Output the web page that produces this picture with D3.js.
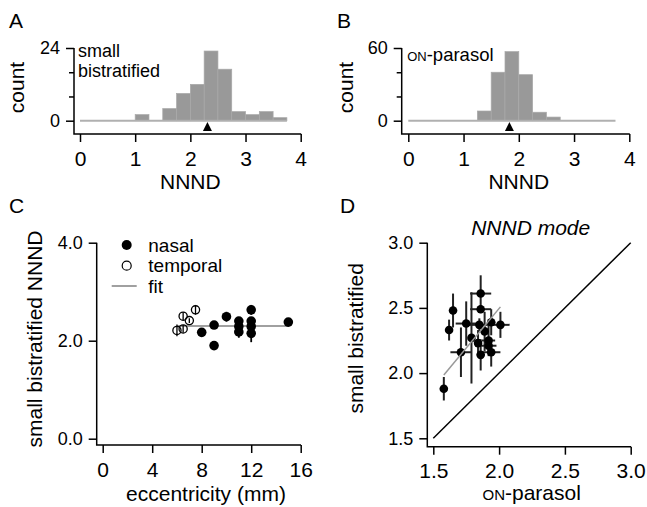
<!DOCTYPE html>
<html><head><meta charset="utf-8">
<script src="https://cdn.jsdelivr.net/npm/d3@7"></script>
<style>
html,body{margin:0;padding:0;background:#fff;}
svg{display:block;font-family:"Liberation Sans",Arial,Helvetica,sans-serif;}
</style></head>
<body>
<script>
// ---------- DATA ----------
const binEdges = [0,0.25,0.5,0.75,1,1.25,1.5,1.75,2,2.25,2.5,2.75,3,3.25,3.5];
const binWidth = 0.25;
const countsA = [0,0,0,0,2,0,4,9,12,23,17,3,2,3,1];
const countsB = [0,0,0,0,0,8,40,57,38,7,3,0,0,0,0];
const medianA = 2.31;
const medianB = 1.83;
const histXTicks = [0,1,2,3,4];
const histYTicksA = [0,24];
const histYMinorA = [8,16];
const histYTicksB = [0,60];
const histYMinorB = [20,40];

// panel C: eccentricity (mm), NNND, error
const nasalEcc  = [8,9,9,10,11,11,11,12,12,12,12,15];
const nasalNNND = [2.17,1.90,2.32,2.49,2.40,2.29,2.18,2.63,2.40,2.29,2.15,2.38];
const nasalErr  = [0.04,0.04,0.05,0.10,0.06,0.08,0.12,0.10,0.08,0.08,0.18,0.05];
const tempEcc   = [6.0,6.5,6.5,7.0,7.5];
const tempNNND  = [2.21,2.24,2.50,2.41,2.63];
const tempErr   = [0.12,0.08,0.08,0.05,0.10];
const fitCEcc   = [6,15];
const fitCNNND  = [2.30,2.30];
const cXTicks = [0,4,8,12,16];
const cYTicks = [0,2,4];
const legendC = ["nasal","temporal","fit"];

// panel D: ON-parasol mode, small bistratified mode, errors
const dParasol = [1.58,1.65,1.62,1.75,1.71,1.79,1.86,1.86,1.85,1.84,1.86,1.89,1.92,1.94,1.94,2.01,1.92];
const dSmallBi = [1.88,2.48,2.33,2.38,2.16,2.27,2.61,2.49,2.37,2.23,2.14,2.32,2.25,2.39,2.16,2.37,2.21];
const dXErr    = [0.03,0.02,0.02,0.08,0.08,0.02,0.08,0.08,0.09,0.03,0.03,0.03,0.05,0.03,0.07,0.07,0.06];
const dYErr    = [0.09,0.13,0.08,0.17,0.19,0.35,0.14,0.03,0.05,0.10,0.12,0.15,0.12,0.10,0.11,0.10,0.05];
const fitDX = [1.58,2.01];
const fitDY = [1.985,2.508];
const dTicks = [1.5,2.0,2.5,3.0];

// ---------- DRAW ----------
const W = 647, H = 507;
const svg = d3.select("body").append("svg").attr("width", W).attr("height", H);
svg.append("rect").attr("width", W).attr("height", H).attr("fill", "#fff");

const FT = 21, FYT = 18, FXT = 21;

function panelLetter(t, x, y){
  svg.append("text").attr("x", x).attr("y", y).attr("font-size", 21).text(t);
}

function drawAxes(g, xs, ys, o){
  const ya = d3.axisLeft(ys).tickValues(o.yTicks).tickSize(8).tickFormat(o.yFmt);
  const yg = g.append("g").attr("transform", `translate(${o.yAxisX},0)`).call(ya);
  yg.select(".domain").remove();
  yg.selectAll("line").attr("stroke", "#000").attr("stroke-width", 1.5);
  yg.selectAll("text").attr("font-size", FYT).attr("x", -o.yLabOff).attr("fill", "#000")
    .attr("font-family", "Liberation Sans, Arial, sans-serif");
  if (o.yMinor){
    const ym = d3.axisLeft(ys).tickValues(o.yMinor).tickSize(5).tickFormat("");
    const mg = g.append("g").attr("transform", `translate(${o.yAxisX},0)`).call(ym);
    mg.select(".domain").remove();
    mg.selectAll("line").attr("stroke", "#000").attr("stroke-width", 1.5);
  }
  const xa = d3.axisBottom(xs).tickValues(o.xTicks).tickSize(8).tickFormat(o.xFmt);
  const xg = g.append("g").attr("transform", `translate(0,${o.xAxisY})`).call(xa);
  xg.select(".domain").remove();
  xg.selectAll("line").attr("stroke", "#000").attr("stroke-width", 1.5);
  xg.selectAll("text").attr("font-size", FXT).attr("y", o.xLabOff).attr("dy", 0).attr("fill", "#000")
    .attr("font-family", "Liberation Sans, Arial, sans-serif");
  g.append("path")
    .attr("d", `M${o.yAxisX},${o.yTop}V${o.xAxisY}H${o.xRight}`)
    .attr("fill", "none").attr("stroke", "#000").attr("stroke-width", 1.5);
}

function histPanel(counts, median, xr, yDomMax, yAxisX, yTicks, yMinor, label, isON, countX){
  const g = svg.append("g");
  const xs = d3.scaleLinear().domain([0,4]).range(xr);
  const ys = d3.scaleLinear().domain([0,yDomMax]).range([120.7,48]);
  const data = binEdges.map((e,i)=>({x0:e, x1:e+binWidth, c:counts[i]})).filter(d=>d.c>0);
  g.selectAll("rect.bar").data(data).join("rect").attr("class","bar")
    .attr("x", d=>xs(d.x0)).attr("width", d=>xs(d.x1)-xs(d.x0))
    .attr("y", d=>ys(d.c)).attr("height", d=>ys(0)-ys(d.c))
    .attr("fill", "#999").attr("stroke", "#a9a9a9").attr("stroke-width", 0.7);
  g.append("line").attr("x1", xs(binEdges[0])).attr("x2", xs(binEdges[binEdges.length-1]+binWidth))
    .attr("y1", ys(0)).attr("y2", ys(0)).attr("stroke", "#b0b0b0").attr("stroke-width", 2);
  const mx = xs(median);
  g.append("path").attr("d", `M${mx},122L${mx+4.5},131L${mx-4.5},131Z`).attr("fill", "#000");
  drawAxes(g, xs, ys, {yAxisX, xAxisY:134, yTop:48, xRight:xr[1]+0.5, xTicks:histXTicks,
    yTicks, yMinor, xFmt:d3.format("d"), yFmt:d3.format("d"), yLabOff:14, xLabOff:31.5});
  g.append("text").attr("x", (xr[0]+xr[1])/2).attr("y", 188.5).attr("text-anchor","middle")
    .attr("font-size", FT).text("NNND");
  g.append("text").attr("transform", `translate(${countX},87.5) rotate(-90)`).attr("text-anchor","middle")
    .attr("font-size", FT).text("count");
  if (!isON){
    const t = g.append("text").attr("x", yAxisX+4).attr("font-size", 18);
    t.append("tspan").attr("x", yAxisX+4).attr("y", 57).text(label[0]);
    t.append("tspan").attr("x", yAxisX+4).attr("y", 77).text(label[1]);
  } else {
    const t = g.append("text").attr("x", yAxisX+5.5).attr("y", 61).attr("font-size", 18.5);
    t.append("tspan").attr("font-size", 13).text("ON");
    t.append("tspan").text("-parasol");
  }
}

panelLetter("A", 9, 28);
panelLetter("B", 337, 28);
panelLetter("C", 9, 213);
panelLetter("D", 340, 213);

histPanel(countsA, medianA, [80,300.7], 24, 74, histYTicksA, histYMinorA, ["small","bistratified"], false, 23.5);
histPanel(countsB, medianB, [408.3,629.3], 60, 401.7, histYTicksB, histYMinorB, null, true, 353.3);

// ---------- Panel C ----------
{
  const g = svg.append("g");
  const xs = d3.scaleLinear().domain([0,16]).range([102.7,300.7]);
  const ys = d3.scaleLinear().domain([0,4]).range([438.7,242.7]);
  drawAxes(g, xs, ys, {yAxisX:96.7, xAxisY:445, yTop:242.7, xRight:301, xTicks:cXTicks,
    yTicks:cYTicks, yMinor:null, xFmt:d3.format("d"), yFmt:d3.format(".1f"), yLabOff:14, xLabOff:32});
  g.append("line").attr("x1", xs(fitCEcc[0])).attr("x2", xs(fitCEcc[1]))
    .attr("y1", ys(fitCNNND[0])).attr("y2", ys(fitCNNND[1]))
    .attr("stroke", "#a0a0a0").attr("stroke-width", 2);
  const nasal = nasalEcc.map((e,i)=>({x:e, y:nasalNNND[i], err:nasalErr[i]}));
  const temp = tempEcc.map((e,i)=>({x:e, y:tempNNND[i], err:tempErr[i]}));
  g.selectAll("line.en").data(nasal).join("line").attr("class","en")
    .attr("x1", d=>xs(d.x)).attr("x2", d=>xs(d.x))
    .attr("y1", d=>ys(d.y-d.err)).attr("y2", d=>ys(d.y+d.err))
    .attr("stroke", "#000").attr("stroke-width", 1.8);
  g.selectAll("line.et").data(temp).join("line").attr("class","et")
    .attr("x1", d=>xs(d.x)).attr("x2", d=>xs(d.x))
    .attr("y1", d=>ys(d.y-d.err)).attr("y2", d=>ys(d.y+d.err))
    .attr("stroke", "#000").attr("stroke-width", 1.3);
  g.selectAll("circle.n").data(nasal).join("circle").attr("class","n")
    .attr("cx", d=>xs(d.x)).attr("cy", d=>ys(d.y)).attr("r", 4.8).attr("fill", "#000");
  g.selectAll("circle.t").data(temp).join("circle").attr("class","t")
    .attr("cx", d=>xs(d.x)).attr("cy", d=>ys(d.y)).attr("r", 4.1)
    .attr("fill", "none").attr("stroke", "#000").attr("stroke-width", 1.3);
  g.append("text").attr("x", 206).attr("y", 501).attr("text-anchor","middle")
    .attr("font-size", FT).text("eccentricity (mm)");
  g.append("text").attr("transform", "translate(41.5,339) rotate(-90)").attr("text-anchor","middle")
    .attr("font-size", FT).text("small bistratified NNND");
  const lg = g.append("g");
  const ly = [245, 265.7, 286];
  lg.append("circle").attr("cx", 126.7).attr("cy", ly[0]).attr("r", 5).attr("fill", "#000");
  lg.append("circle").attr("cx", 126.7).attr("cy", ly[1]).attr("r", 4.5)
    .attr("fill", "none").attr("stroke", "#000").attr("stroke-width", 1.2);
  lg.append("line").attr("x1", 111.7).attr("x2", 136.7).attr("y1", ly[2]).attr("y2", ly[2])
    .attr("stroke", "#a0a0a0").attr("stroke-width", 2);
  lg.selectAll("text").data(legendC).join("text")
    .attr("x", 148.3).attr("y", (d,i)=>ly[i]+6.5).attr("font-size", 19).text(d=>d);
}

// ---------- Panel D ----------
{
  const g = svg.append("g");
  const xs = d3.scaleLinear().domain([1.5,3]).range([433.3,630.7]);
  const ys = d3.scaleLinear().domain([1.5,3]).range([438.3,242.7]);
  drawAxes(g, xs, ys, {yAxisX:427.3, xAxisY:446.7, yTop:242.7, xRight:631, xTicks:dTicks,
    yTicks:dTicks, yMinor:null, xFmt:d3.format(".1f"), yFmt:d3.format(".1f"), yLabOff:14, xLabOff:31.5});
  g.append("line").attr("x1", xs(1.5)).attr("y1", ys(1.5)).attr("x2", xs(3)).attr("y2", ys(3))
    .attr("stroke", "#000").attr("stroke-width", 1.5);
  const pts = dParasol.map((x,i)=>({x, y:dSmallBi[i], ex:dXErr[i], ey:dYErr[i]}));
  g.selectAll("line.ex").data(pts).join("line").attr("class","ex")
    .attr("x1", d=>xs(d.x-d.ex)).attr("x2", d=>xs(d.x+d.ex))
    .attr("y1", d=>ys(d.y)).attr("y2", d=>ys(d.y))
    .attr("stroke", "#222").attr("stroke-width", 2);
  g.selectAll("line.ey").data(pts).join("line").attr("class","ey")
    .attr("x1", d=>xs(d.x)).attr("x2", d=>xs(d.x))
    .attr("y1", d=>ys(d.y-d.ey)).attr("y2", d=>ys(d.y+d.ey))
    .attr("stroke", "#222").attr("stroke-width", 2);
  g.selectAll("circle.p").data(pts).join("circle").attr("class","p")
    .attr("cx", d=>xs(d.x)).attr("cy", d=>ys(d.y)).attr("r", 4.3).attr("fill", "#000");
  g.append("line").attr("x1", xs(fitDX[0])).attr("y1", ys(fitDY[0]))
    .attr("x2", xs(fitDX[1])).attr("y2", ys(fitDY[1]))
    .attr("stroke", "#999").attr("stroke-width", 1.5);
  g.append("text").attr("x", 530.7).attr("y", 235).attr("text-anchor","middle")
    .attr("font-size", FT).attr("font-style","italic").text("NNND mode");
  const xt = g.append("text").attr("x", 531.7).attr("y", 500).attr("text-anchor","middle").attr("font-size", FT);
  xt.append("tspan").attr("font-size", 15).text("ON");
  xt.append("tspan").text("-parasol");
  g.append("text").attr("transform", "translate(363.3,338.3) rotate(-90)").attr("text-anchor","middle")
    .attr("font-size", FT).text("small bistratified");
}
</script>
</body></html>
